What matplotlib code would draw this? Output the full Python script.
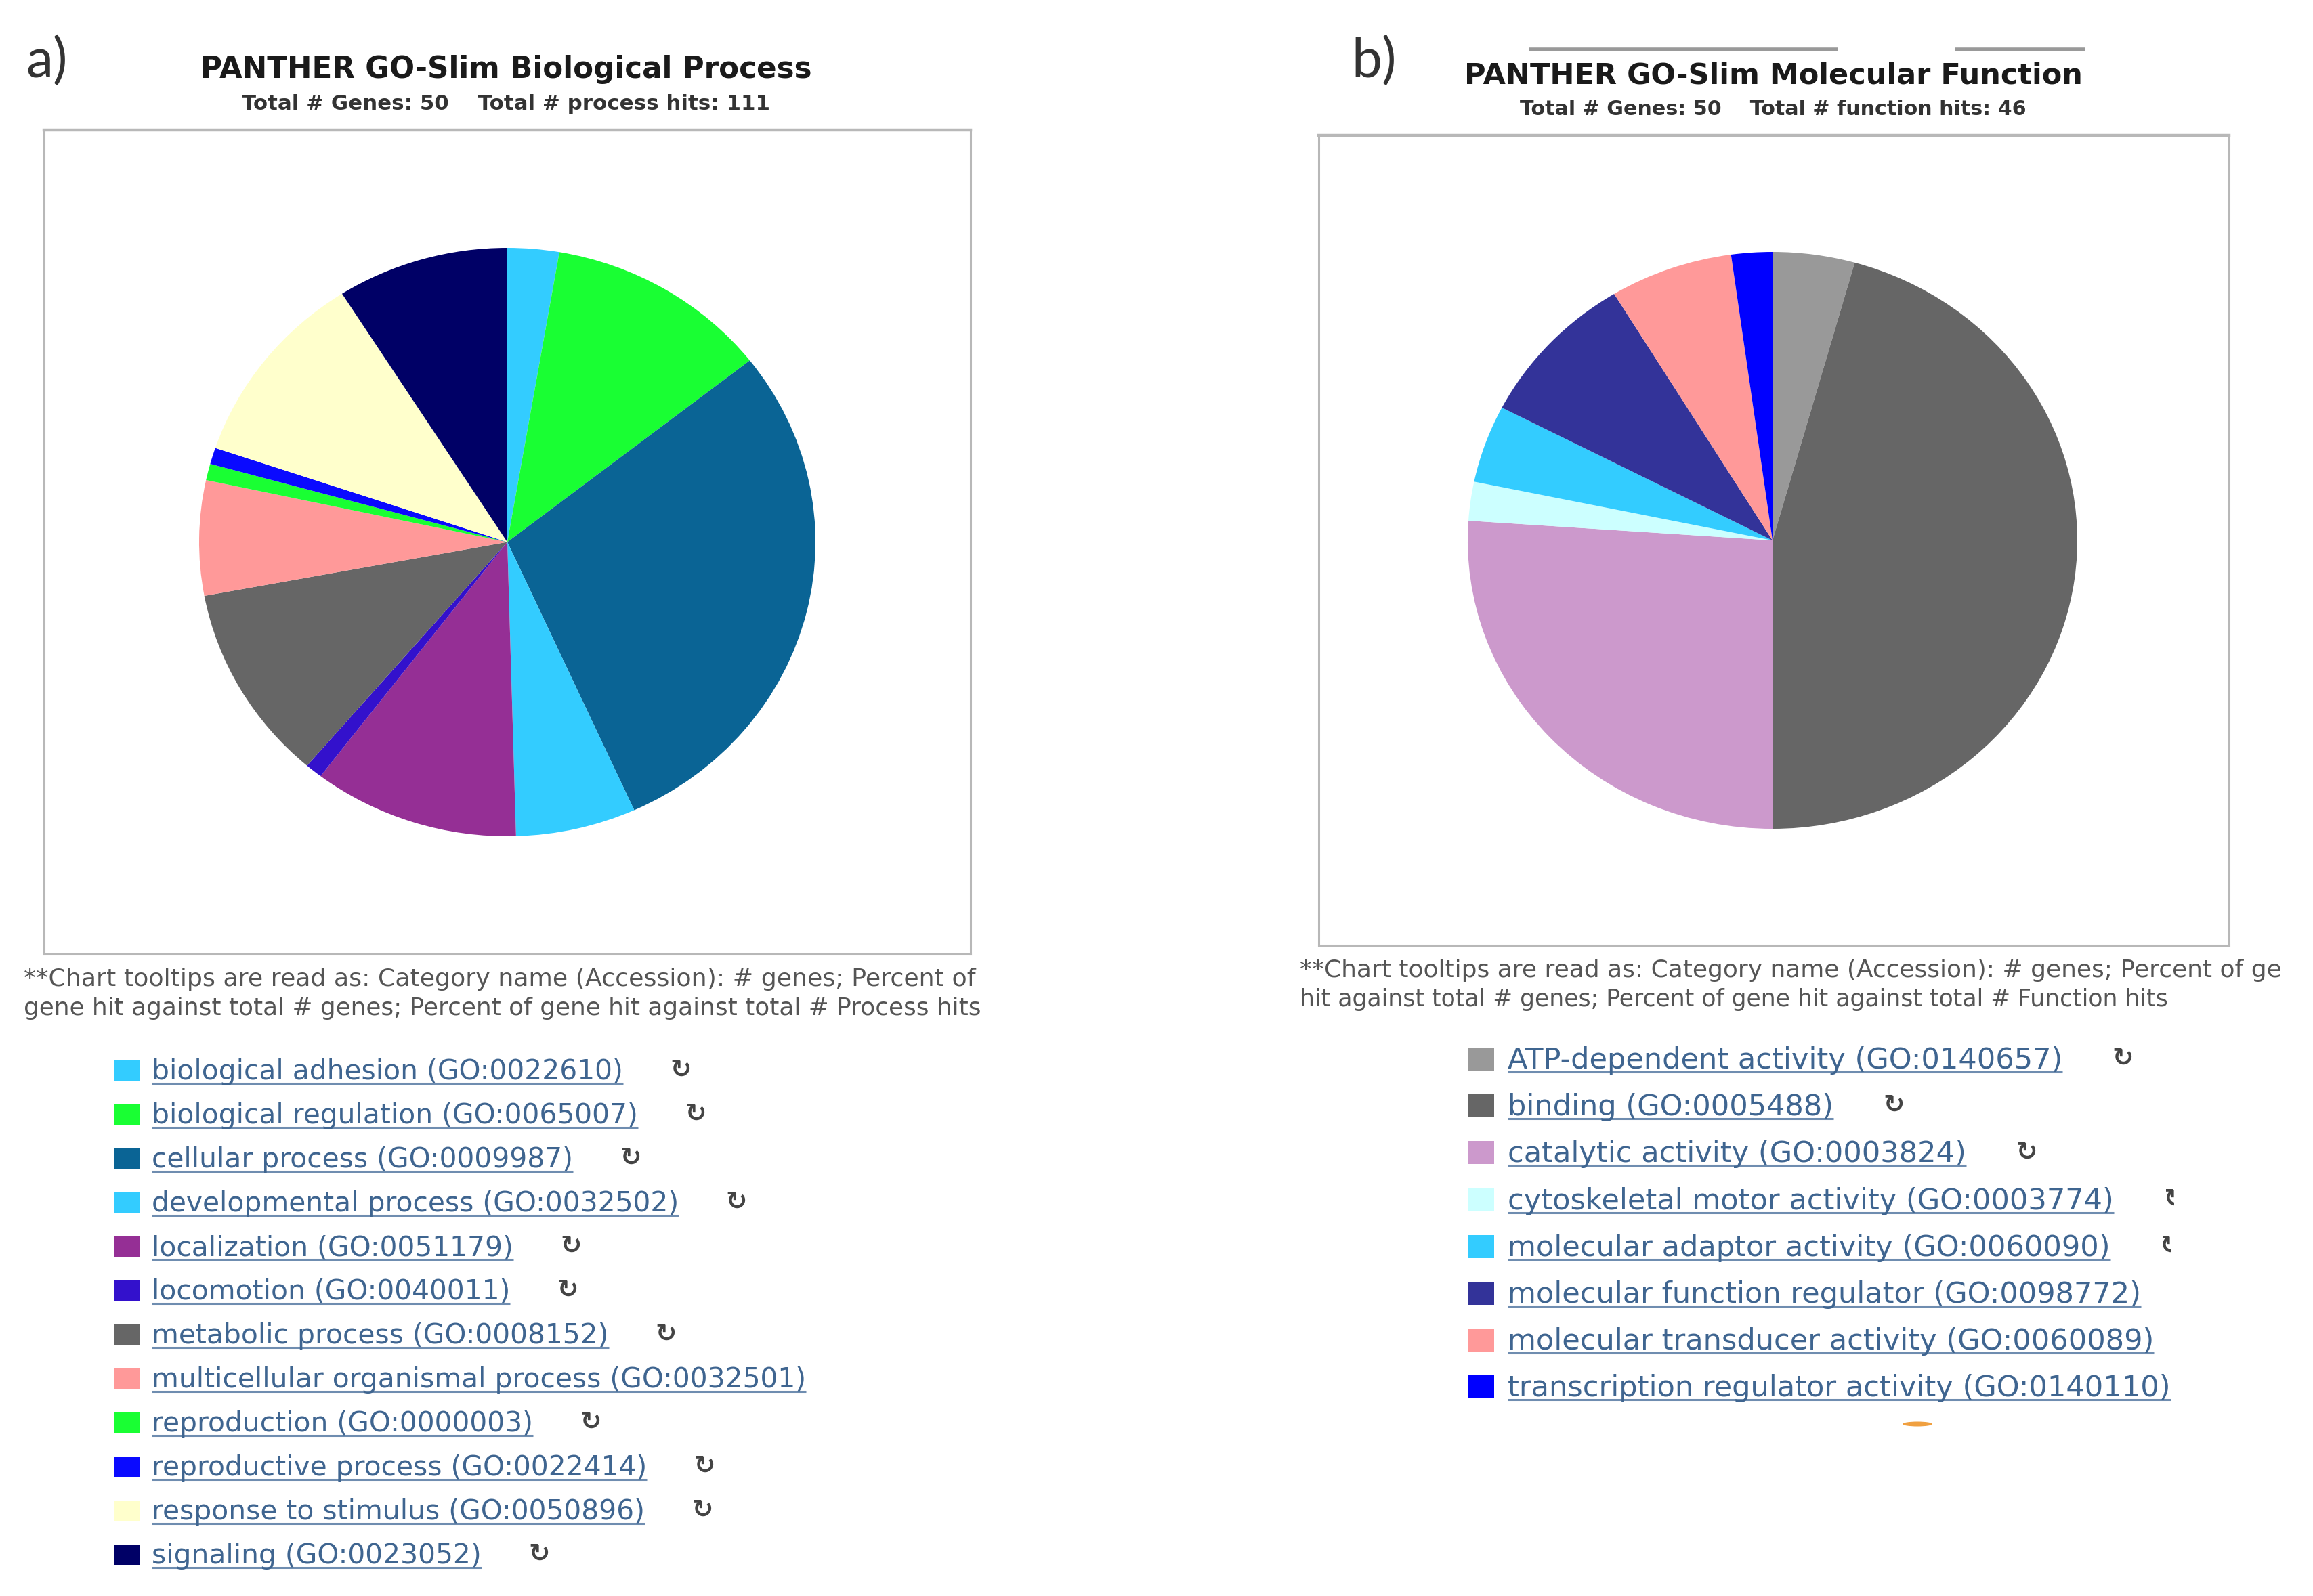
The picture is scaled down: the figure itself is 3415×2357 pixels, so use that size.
import matplotlib
matplotlib.use('Agg')
import matplotlib.pyplot as plt
from matplotlib.patches import Rectangle, Ellipse
from matplotlib.transforms import Bbox

W, H = 3415, 2357

# panel a data
bp_names = ['biological adhesion (GO:0022610)', 'biological regulation (GO:0065007)',
            'cellular process (GO:0009987)', 'developmental process (GO:0032502)',
            'localization (GO:0051179)', 'locomotion (GO:0040011)',
            'metabolic process (GO:0008152)', 'multicellular organismal process (GO:0032501)',
            'reproduction (GO:0000003)', 'reproductive process (GO:0022414)',
            'response to stimulus (GO:0050896)', 'signaling (GO:0023052)']
bp_hits = [3, 13, 32, 7, 12, 1, 12, 7, 1, 1, 12, 10]
bp_colors = ['#33ccff', '#19ff33', '#0a6495', '#33ccff', '#952f95', '#3311cc',
             '#666666', '#ff9999', '#19ff33', '#0a0aff', '#ffffcc', '#000066']

# panel b data
mf_names = ['ATP-dependent activity (GO:0140657)', 'binding (GO:0005488)',
            'catalytic activity (GO:0003824)', 'cytoskeletal motor activity (GO:0003774)',
            'molecular adaptor activity (GO:0060090)', 'molecular function regulator (GO:0098772)',
            'molecular transducer activity (GO:0060089)', 'transcription regulator activity (GO:0140110)']
mf_hits = [2, 21, 12, 1, 2, 4, 3, 1]
mf_colors = ['#999999', '#666666', '#cc99cc', '#ccffff', '#33ccff', '#333399', '#ff9999', '#0000ff']


def px_axes(x0, y0, x1, y1):
    # axes from pixel box, y counted from the top
    return fig.add_axes([x0 / W, 1 - y1 / H, (x1 - x0) / W, (y1 - y0) / H])


def draw_pie(box, pie_box, hits, colors):
    frame = px_axes(*box)
    frame.set_xticks([])
    frame.set_yticks([])
    for s in frame.spines.values():
        s.set_color('#b8b8b8')
        s.set_linewidth(2.2)
    frame.spines['top'].set_linewidth(3.2)

    ax = px_axes(*pie_box)
    ax.pie(hits, colors=colors, startangle=90, counterclock=False, radius=1)
    ax.set_aspect('auto')
    ax.set_xlim(-1, 1)
    ax.set_ylim(-1, 1)


def draw_rows(names, colors, y0, dy, x_sw, x_txt, sw_h, fs, icon_gap, icons):
    for i, name in enumerate(names):
        y = y0 + dy * i
        over.add_patch(Rectangle((x_sw, y - sw_h / 2), 39, sw_h, color=colors[i], lw=0))
        t = over.text(x_txt, y + 2, name, fontsize=fs, color='#3f6590', va='center', ha='left')
        bb = t.get_window_extent(renderer)
        over.plot([bb.x0, bb.x1], [y + 19, y + 19], color='#6f8db0', lw=2.2, solid_capstyle='butt')
        if icons[i]:
            ic = over.text(bb.x1 + icon_gap, y, '\u21bb', fontsize=27, color='#444444',
                           weight='bold', va='center', ha='center')
            if icons[i] == 2:
                # cut icon in the reference, only a sliver is left
                c = over.transData.transform((bb.x1 + icon_gap, y))
                ic.set_clip_box(Bbox([[c[0] - 12, 0], [c[0], H]]))
                ic.set_clip_on(True)


fig = plt.figure(figsize=(W / 100, H / 100), dpi=100, facecolor='white')
renderer = fig.canvas.get_renderer()

draw_pie((65, 192, 1433, 1409), (294, 366, 1204, 1235), bp_hits, bp_colors)
draw_pie((1947, 200, 3291, 1396), (2167, 372, 3067, 1224), mf_hits, mf_colors)

# overlay in picture pixels for all the html-ish text
over = fig.add_axes([0, 0, 1, 1], facecolor='none')
over.set_xlim(0, W)
over.set_ylim(H, 0)
over.axis('off')

over.text(38, 90, 'a)', fontsize=58, family='Lato', color='#333333', va='center')
over.text(1995, 90, 'b)', fontsize=58, family='Lato', color='#333333', va='center')

over.text(747, 102, 'PANTHER GO-Slim Biological Process', fontsize=31.4, weight='bold',
          color='#1a1a1a', ha='center', va='center')
over.text(2618, 111, 'PANTHER GO-Slim Molecular Function', fontsize=31, weight='bold',
          color='#1a1a1a', ha='center', va='center')
over.text(747, 153, 'Total # Genes: 50    Total # process hits: 111', fontsize=22.2, weight='bold',
          color='#333333', ha='center', va='center')
over.text(2618, 162, 'Total # Genes: 50    Total # function hits: 46', fontsize=21.7, weight='bold',
          color='#333333', ha='center', va='center')

# stray grey bars over the title of panel b
over.plot([2257, 2714], [73, 73], color='#999999', lw=4, solid_capstyle='butt')
over.plot([2887, 3079], [73, 73], color='#999999', lw=4, solid_capstyle='butt')

over.text(35, 1446, '**Chart tooltips are read as: Category name (Accession): # genes; Percent of',
          fontsize=26.2, color='#555555', va='center')
over.text(35, 1489, 'gene hit against total # genes; Percent of gene hit against total # Process hits',
          fontsize=25.8, color='#555555', va='center')
n = over.text(1919, 1433, '**Chart tooltips are read as: Category name (Accession): # genes; Percent of gene',
              fontsize=25.9, color='#555555', va='center')
n.set_clip_box(Bbox([[1900, 0], [3367, H]]))
n.set_clip_on(True)
over.text(1919, 1476, 'hit against total # genes; Percent of gene hit against total # Function hits',
          fontsize=24.9, color='#555555', va='center')

# no icon behind the multicellular row of panel a
draw_rows(bp_names, bp_colors, 1581, 65, 168, 224, 30, 29.3, 85, [1, 1, 1, 1, 1, 1, 1, 0, 1, 1, 1, 1])
draw_rows(mf_names, mf_colors, 1564, 69.2, 2167, 2226, 34, 31.1, 89, [1, 1, 1, 2, 2, 0, 0, 0])

# small orange smudge under the list
over.add_patch(Ellipse((2831, 2103), 44, 7, color='#f0a040', lw=0))

fig.savefig('out.png', dpi=100)
